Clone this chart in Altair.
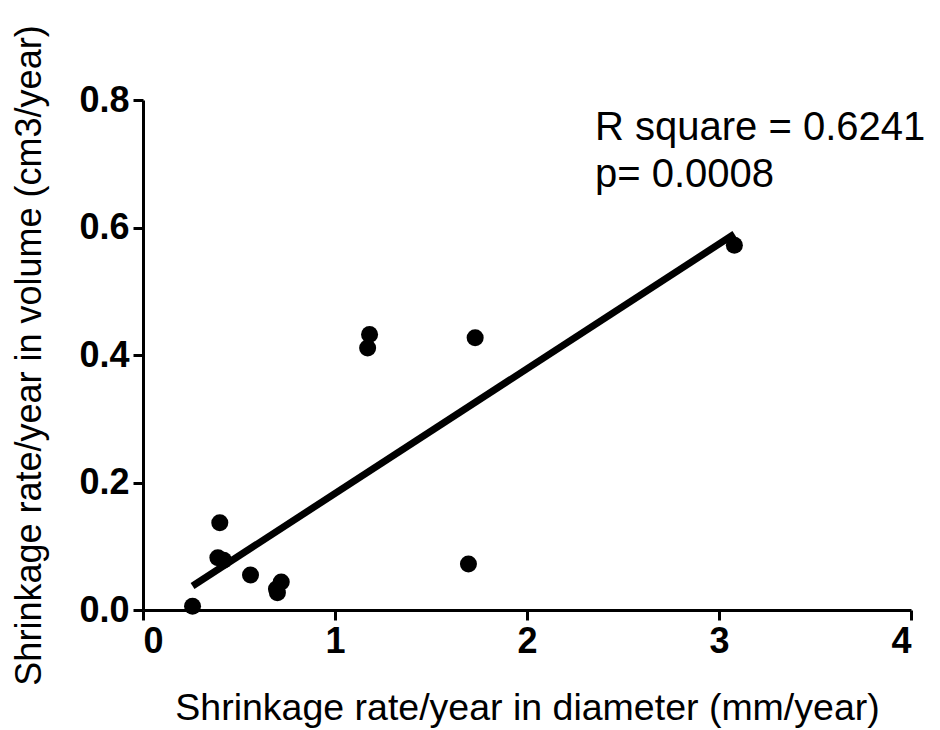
import altair as alt
import pandas as pd

diameter_rate = [0.258, 0.40, 0.39, 0.42, 0.56, 0.695, 0.72, 0.70, 1.18, 1.17, 1.73, 1.695, 3.08]
volume_rate = [0.006, 0.137, 0.082, 0.078, 0.055, 0.033, 0.044, 0.027, 0.432, 0.411, 0.427, 0.072, 0.572]
annotation = ["R square = 0.6241", "p= 0.0008"]
x_ticks = [0, 1, 2, 3, 4]
y_ticks = [0.0, 0.2, 0.4, 0.6, 0.8]

df = pd.DataFrame({"d": diameter_rate, "v": volume_rate})

FONT = "Liberation Sans"

x_enc = alt.X("d:Q", scale=alt.Scale(domain=[0, 4], nice=False),
              axis=alt.Axis(title="Shrinkage rate/year in diameter (mm/year)",
                            values=x_ticks, format="d", titlePadding=30,
                            titleFontSize=37.5))
y_enc = alt.Y("v:Q", scale=alt.Scale(domain=[0, 0.8], nice=False),
              axis=alt.Axis(title="Shrinkage rate/year in volume (cm3/year)",
                            values=y_ticks, format=".1f", titlePadding=30))

base = alt.Chart(df)

points = base.mark_circle(size=290, color="black", opacity=1).encode(x=x_enc, y=y_enc)

fit = base.transform_regression("d", "v").mark_line(
    color="black", strokeWidth=7, strokeCap="butt").encode(x=x_enc, y=y_enc)

label = alt.Chart(pd.DataFrame({"t": [annotation]})).mark_text(
    align="left", baseline="alphabetic", fontSize=40, font=FONT,
    color="black", lineHeight=47).encode(
    x=alt.value(452), y=alt.value(40), text="t")

chart = alt.layer(fit, points, label).properties(
    width=768, height=510,
    padding={"left": 135, "top": 92, "right": 20, "bottom": 120},
    autosize="none",
).configure_view(stroke=None).configure_axis(
    grid=False,
    domainColor="black", domainWidth=3,
    tickColor="black", tickWidth=3, tickSize=10,
    labelFont=FONT, labelFontWeight="bold", labelFontSize=36, labelColor="black",
    labelPadding=4,
    titleFont=FONT, titleFontWeight="normal", titleFontSize=36, titleColor="black",
)

chart.save("out.html", embed_options={"renderer": "svg", "actions": False})
